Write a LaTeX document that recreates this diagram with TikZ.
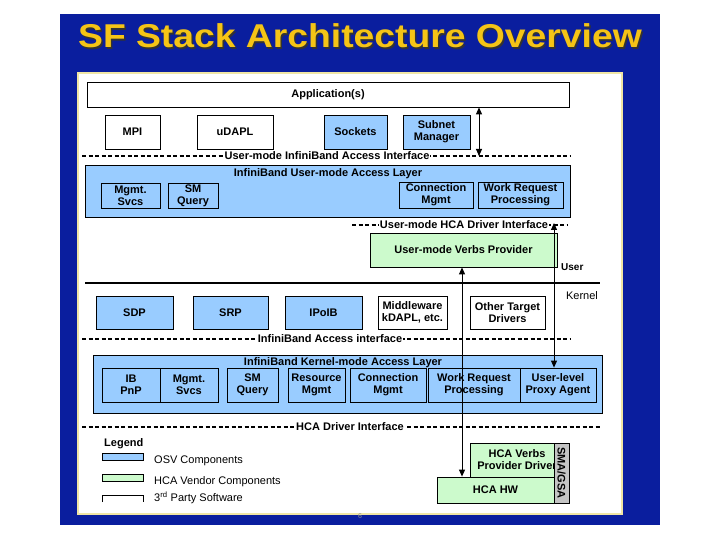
\documentclass[tikz,border=0pt]{standalone}
\usepackage{fontspec}
\setmainfont{Liberation Sans}
\usepackage{xcolor}
\usepackage{graphicx}
\usetikzlibrary{arrows.meta}
\definecolor{slideblue}{RGB}{10,30,158}
\definecolor{titleyellow}{RGB}{245,196,22}
\definecolor{panelrim}{RGB}{240,230,165}
\definecolor{osvblue}{RGB}{153,204,255}
\definecolor{hcagreen}{RGB}{204,250,204}
\definecolor{smagray}{RGB}{196,196,196}
\newcommand{\slidetitle}{\scalebox{1.13}[1]{SF Stack Architecture Overview}}

\begin{document}
\begin{tikzpicture}[x=1pt,y=-1pt,font=\fontsize{11}{12}\selectfont\bfseries,
  comp/.style={draw,line width=0.8pt,inner sep=0pt,align=center},
  osv/.style={comp,fill=osvblue},
  vendor/.style={comp,fill=hcagreen},
  third/.style={comp,fill=white},
  ifline/.style={line width=1.5pt,dash pattern=on 4pt off 2.5pt},
  iflabel/.style={fill=white,inner sep=1pt},
  dbl/.style={line width=0.9pt,{Triangle[length=7pt,width=6pt]}-{Triangle[length=7pt,width=6pt]}},
  legtext/.style={anchor=west,inner sep=0pt,font=\fontsize{11}{12}\selectfont}]
  \useasboundingbox (0,0) rectangle (720,540);
  \fill[white] (0,0) rectangle (720,540);
  \fill[slideblue] (60,14) rectangle (660,525);
  \node[text=black!80,font=\fontsize{33}{36}\selectfont\bfseries] (shadow) at (361.5,37.5) {\slidetitle};
  \node[text=titleyellow,font=\fontsize{33}{36}\selectfont\bfseries] (title) at (360,36) {\slidetitle};
  \draw[panelrim,line width=1.5pt,fill=white] (78,73) rectangle (622,514);
  \node[font=\fontsize{7}{8}\selectfont,text=black!45,anchor=north,inner sep=0pt] (pageno) at (360,513) {6};

  % user mode
  \node[third,minimum width=482,minimum height=25] (app) at (328,94.5) {Application(s)};
  \node[third,minimum width=55,minimum height=34] (mpi) at (132.5,132) {MPI};
  \node[third,minimum width=76,minimum height=34] (udapl) at (235,132) {uDAPL};
  \node[osv,minimum width=63,minimum height=34] (sockets) at (355.5,132) {Sockets};
  \node[osv,minimum width=67,minimum height=34] (subnet) at (436.5,132) {Subnet\\Manager};
  \draw[ifline] (82,156) -- (570,156);
  \node[iflabel] (ifuser) at (327,156) {User-mode InfiniBand Access Interface};
  \node[osv,minimum width=485,minimum height=52] (ual) at (327.5,191) {};
  \node[inner sep=0pt] (uallabel) at (328,174) {InfiniBand User-mode Access Layer};
  \node[comp,minimum width=59,minimum height=25] (umgmt) at (130.5,195.5) {Mgmt.\\Svcs};
  \node[comp,minimum width=50,minimum height=25] (usm) at (193,195.5) {SM\\Query};
  \node[comp,minimum width=74,minimum height=26] (ucm) at (436,195) {Connection\\Mgmt};
  \node[comp,minimum width=85,minimum height=26] (uwr) at (520.5,195) {Work Request\\Processing};
  \draw[ifline] (352,225) -- (568,225);
  \node[iflabel] (ifhcau) at (464,225) {User-mode HCA Driver Interface};
  \node[vendor,minimum width=187,minimum height=34] (uvp) at (463.5,250) {User-mode Verbs Provider};

  % user / kernel split
  \draw[line width=2pt] (85,283) -- (600,283);
  \node[anchor=west,inner sep=0pt,font=\fontsize{10}{11}\selectfont\bfseries] (user) at (561,267) {User};
  \node[font=\fontsize{11}{12}\selectfont] (kernel) at (582,296) {Kernel};

  % kernel mode
  \node[osv,minimum width=77,minimum height=33] (sdp) at (134.5,312.5) {SDP};
  \node[osv,minimum width=75,minimum height=33] (srp) at (230.5,312.5) {SRP};
  \node[osv,minimum width=77,minimum height=33] (ipoib) at (323.5,312.5) {IPoIB};
  \node[third,minimum width=69,minimum height=33] (mw) at (412.5,312.5) {Middleware\\kDAPL, etc.};
  \node[third,minimum width=75,minimum height=33] (otd) at (507.5,312.5) {Other Target\\Drivers};
  \draw[ifline] (82,339) -- (570,339);
  \node[iflabel] (ifkern) at (330,339) {InfiniBand Access interface};
  \node[osv,minimum width=509,minimum height=58] (kal) at (347.5,384) {};
  \node[inner sep=0pt] (kallabel) at (343,363) {InfiniBand Kernel-mode Access Layer};
  \node[comp,minimum width=58,minimum height=34] (ibpnp) at (131,385) {IB\\PnP};
  \node[comp,minimum width=58,minimum height=34] (kmgmt) at (189,385) {Mgmt.\\Svcs};
  \node[comp,minimum width=51,minimum height=34] (ksm) at (252.5,385) {SM\\Query};
  \node[comp,minimum width=57,minimum height=34] (kres) at (316.5,385) {Resource\\Mgmt};
  \node[comp,minimum width=76,minimum height=34] (kcm) at (388,385) {Connection\\Mgmt};
  \node[comp,minimum width=92,minimum height=34] (kwr) at (474,385) {Work Request\\Processing};
  \node[comp,minimum width=76,minimum height=34] (proxy) at (558,385) {User-level\\Proxy Agent};
  \draw[ifline] (82,427) -- (600,427);
  \node[iflabel] (ifhca) at (350,427) {HCA Driver Interface};

  % hardware
  \node[vendor,minimum width=84,minimum height=34] (hcavp) at (512,460) {};
  \node[align=center,inner sep=0pt] (hcavplabel) at (517,460) {HCA Verbs\\Provider Driver};
  \node[vendor,minimum width=117,minimum height=26] (hcahw) at (495.5,490) {HCA HW};
  \node[comp,fill=smagray,minimum width=15,minimum height=60] (smagsa) at (561.5,473) {};
  \node[rotate=-90,inner sep=0pt] (smalabel) at (smagsa) {SMA/GSA};

  % arrows
  \coordinate (aplx) at (479,156);
  \draw[dbl] (app.south -| aplx) -- (aplx);
  \coordinate (vbx) at (462,0);
  \draw[dbl] (uvp.south -| vbx) -- (hcahw.north -| vbx);
  \coordinate (prx) at (554,223);
  \draw[dbl] (prx) -- (proxy.north -| prx);

  % legend
  \node[anchor=west,inner sep=0pt] (legend) at (104,444) {Legend};
  \draw[fill=osvblue] (102,453) rectangle (143,460);
  \draw[fill=hcagreen] (102,474) rectangle (143,481);
  \draw (102,502) -- (102,495) -- (143,495) -- (143,502);
  \node[legtext] (legosv) at (154,461) {OSV Components};
  \node[legtext] (leghca) at (154,482) {HCA Vendor Components};
  \node[legtext] (legthird) at (154,498) {3\textsuperscript{rd} Party Software};
\end{tikzpicture}
\end{document}
